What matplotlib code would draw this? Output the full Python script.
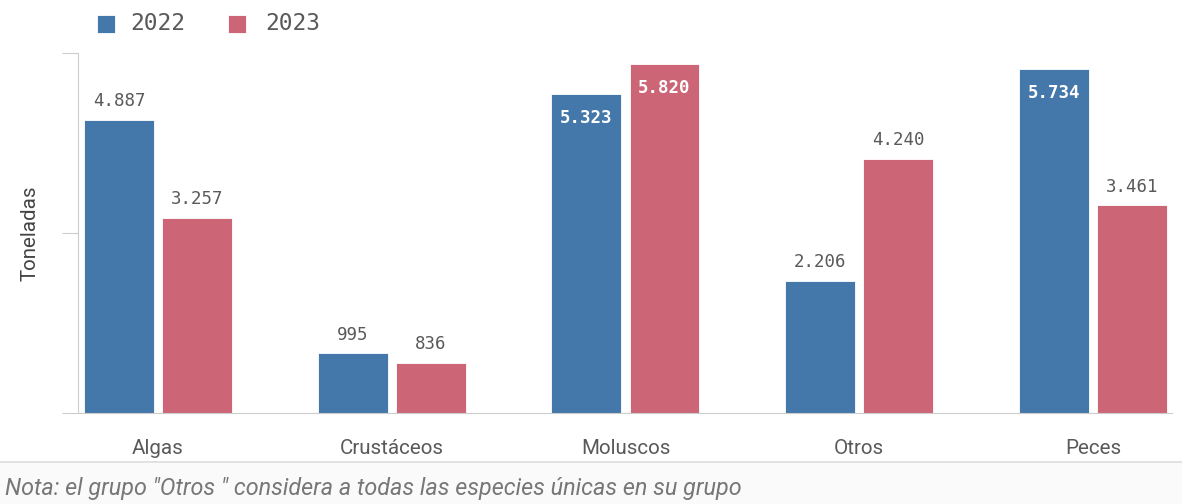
"""Grouped bar chart: toneladas por grupo de especies, 2022 vs 2023."""
import numpy as np
import matplotlib.pyplot as plt
from matplotlib.patches import Rectangle
from matplotlib.lines import Line2D

categories = ["Algas", "Crustáceos", "Moluscos", "Otros", "Peces"]
values_2022 = [4887, 995, 5323, 2206, 5734]
values_2023 = [3257, 836, 5820, 4240, 3461]
series_names = ["2022", "2023"]
yticks = [0, 3000, 6000]

BLUE = "#4477aa"
RED = "#cc6677"
GRAY = "#595959"
MONO = "DejaVu Sans Mono"
SANS = "Roboto"


def fmt(v):
    return f"{v:,}".replace(",", ".")


def main():
    fig = plt.figure(figsize=(11.82, 5.04), dpi=100)
    ax = fig.add_axes([0.066, 0.1806, 0.9255, 0.7142])

    x = np.arange(len(categories))
    w = 0.299
    off = 0.167
    for vals, dx, color in ((values_2022, -off, BLUE), (values_2023, off, RED)):
        bars = ax.bar(x + dx, vals, width=w, color=color, edgecolor="white",
                      linewidth=0.6, zorder=2)
        for b, v in zip(bars, vals):
            cx = b.get_x() + b.get_width() / 2
            if v > 5100:
                ax.annotate(fmt(v), (cx, v), xytext=(0, -11), textcoords="offset points",
                            ha="center", va="top", color="white", fontsize=12.5,
                            fontweight="bold", family=MONO)
            else:
                ax.annotate(fmt(v), (cx, v), xytext=(0, 7), textcoords="offset points",
                            ha="center", va="bottom", color=GRAY, fontsize=12.5,
                            family=MONO)

    ax.set_xlim(-0.342, 4.338)
    ax.set_ylim(0, 6000)
    ax.set_yticks(yticks)
    ax.set_yticklabels([])
    ax.tick_params(axis="y", length=11.5, width=0.8, color="#cccccc")
    ax.tick_params(axis="x", length=0, pad=19, labelsize=14.8, labelcolor=GRAY)
    ax.set_xticks(x)
    ax.set_xticklabels(categories, family=SANS)
    for s in ("top", "right"):
        ax.spines[s].set_visible(False)
    ax.spines["left"].set_color("#cccccc")
    ax.spines["bottom"].set_color("#cccccc")
    ax.set_ylabel("Toneladas", family=SANS, fontsize=14.8, color="#444444", labelpad=13)

    # note strip at the bottom
    fig.patches.append(Rectangle((0, 0), 1, 1 - 463 / 504, transform=fig.transFigure,
                                 facecolor="#fafafa", edgecolor="none", zorder=0))
    fig.lines.append(Line2D([0, 1], [1 - 462 / 504] * 2, transform=fig.transFigure,
                            color="#dddddd", lw=1.2))
    fig.text(0.004, 1 - 488 / 504, 'Nota: el grupo "Otros " considera a todas las especies únicas en su grupo',
             family=SANS, style="italic", fontsize=16.8, color="#777777", va="center")

    # legend: coloured squares with the series names
    sq_x = [97, 228]
    txt_x = [130, 265]
    for name, color, sx, tx in zip(series_names, (BLUE, RED), sq_x, txt_x):
        fig.patches.append(Rectangle((sx / 1182, 1 - 33 / 504), 18 / 1182, 18 / 504,
                                     transform=fig.transFigure, facecolor=color,
                                     edgecolor="white", lw=0.6))
        fig.text(tx / 1182, 1 - 24 / 504, name, family=MONO, fontsize=16.5,
                 color=GRAY, va="center", ha="left")

    fig.savefig("out.png", dpi=100)


if __name__ == "__main__":
    main()
